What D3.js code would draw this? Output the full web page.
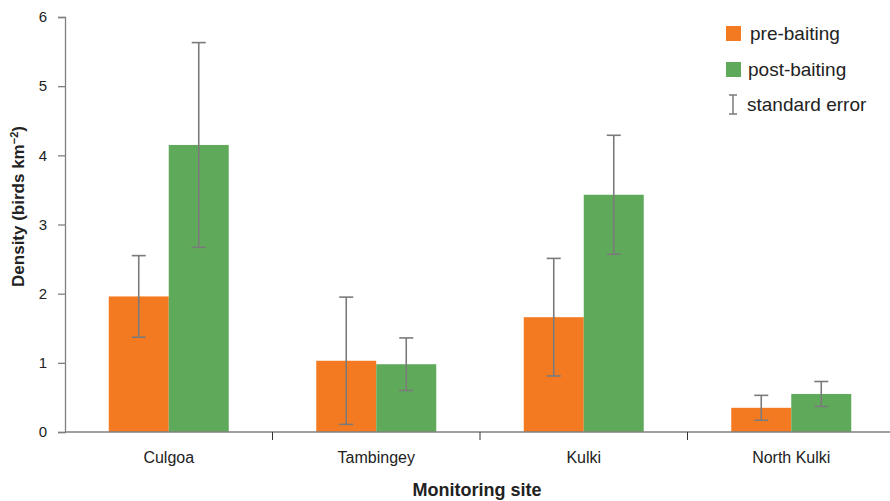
<!DOCTYPE html>
<html>
<head>
<meta charset="utf-8">
<script src="https://cdn.jsdelivr.net/npm/d3@7"></script>
<style>
  body { margin: 0; background: #fff; }
  text { font-family: "Liberation Sans", sans-serif; fill: #222; }
</style>
</head>
<body>
<div id="chart"></div>
<script>
// data
const sites = ["Culgoa", "Tambingey", "Kulki", "North Kulki"]
const series = ["pre-baiting", "post-baiting"]
const preMean = [1.96, 1.03, 1.66, 0.35]
const preSE = [0.59, 0.92, 0.85, 0.18]
const postMean = [4.15, 0.98, 3.43, 0.55]
const postSE = [1.48, 0.38, 0.86, 0.18]
const yTicks = [0, 1, 2, 3, 4, 5, 6]

const W = 890, H = 501
const margin = {top: 17, right: -5, bottom: 69, left: 65},
  width = W - margin.left - margin.right,
  height = H - margin.top - margin.bottom

const colors = {"pre-baiting": "#f47a22", "post-baiting": "#5faa5a"}
const errColor = "#7a7a7a"

const svg = d3.select("#chart")
  .append("svg")
  .attr("width", W)
  .attr("height", H)
.append("g")
  .attr("transform", `translate(${margin.left},${margin.top})`)

const data = sites.map((s, i) => ({
  site: s,
  values: [
    {key: "pre-baiting", mean: preMean[i], se: preSE[i]},
    {key: "post-baiting", mean: postMean[i], se: postSE[i]}
  ]
}))

const x = d3.scaleBand().domain(sites).range([0, width])
const xs = d3.scaleBand().domain(series).range([0, 120])
const y = d3.scaleLinear().domain([0, 6]).range([height, 0])

// bars
const groups = svg.selectAll(".grp")
  .data(data)
  .enter().append("g")
  .attr("transform", d => `translate(${x(d.site) + (x.bandwidth() - 120) / 2},0)`)

groups.selectAll("rect")
  .data(d => d.values)
  .enter().append("rect")
  .attr("x", d => xs(d.key))
  .attr("y", d => y(d.mean))
  .attr("width", xs.bandwidth())
  .attr("height", d => height - y(d.mean))
  .attr("fill", d => colors[d.key])

// error bars
const eb = groups.selectAll(".err")
  .data(d => d.values)
  .enter().append("g")
  .attr("stroke", errColor)
  .attr("stroke-width", 1.6)
eb.append("line")
  .attr("x1", d => xs(d.key) + xs.bandwidth() / 2)
  .attr("x2", d => xs(d.key) + xs.bandwidth() / 2)
  .attr("y1", d => y(d.mean + d.se))
  .attr("y2", d => y(d.mean - d.se))
eb.selectAll(".cap")
  .data(d => [d.mean + d.se, d.mean - d.se].map(v => ({v: v, cx: xs(d.key) + xs.bandwidth() / 2})))
  .enter().append("line")
  .attr("x1", d => d.cx - 7)
  .attr("x2", d => d.cx + 7)
  .attr("y1", d => y(d.v))
  .attr("y2", d => y(d.v))

// y axis
const yAxis = svg.append("g")
  .call(d3.axisLeft(y).tickValues(yTicks).tickFormat(d3.format("d")).tickSize(7).tickPadding(11))
yAxis.selectAll("path, line").attr("stroke", "#808080").attr("stroke-width", 1.3)
yAxis.selectAll("text").attr("font-size", 15).attr("font-family", "Liberation Sans, sans-serif").attr("fill", "#222")

// x axis
svg.append("line")
  .attr("x1", 0).attr("x2", width + 10)
  .attr("y1", height).attr("y2", height)
  .attr("stroke", "#808080").attr("stroke-width", 1.5)
svg.selectAll(".xtick")
  .data(sites.slice(1))
  .enter().append("line")
  .attr("x1", d => x(d)).attr("x2", d => x(d))
  .attr("y1", height).attr("y2", height + 8)
  .attr("stroke", "#333").attr("stroke-width", 1)
svg.selectAll(".xlab")
  .data(sites)
  .enter().append("text")
  .attr("x", d => x(d) + x.bandwidth() / 2)
  .attr("y", height + 31)
  .attr("text-anchor", "middle")
  .style("font-size", "16px")
  .text(d => d)

// axis titles
svg.append("text")
  .attr("x", width / 2 - 3)
  .attr("y", height + 64)
  .attr("text-anchor", "middle")
  .style("font-size", "18px")
  .style("font-weight", "bold")
  .text("Monitoring site")

const yt = svg.append("text")
  .attr("transform", `translate(${-41},${height / 2 - 18}) rotate(-90)`)
  .attr("text-anchor", "middle")
  .style("font-size", "17px")
  .style("font-weight", "bold")
yt.append("tspan").text("Density (birds km")
yt.append("tspan").attr("dy", -6).style("font-size", "11px").text("−2")
yt.append("tspan").attr("dy", 6).text(")")

// legend
const lg = svg.append("g").attr("transform", `translate(${726 - margin.left},${26 - margin.top})`)
series.forEach((s, i) => {
  lg.append("rect")
    .attr("x", 0).attr("y", i * 36)
    .attr("width", 15).attr("height", 15)
    .attr("fill", colors[s])
  lg.append("text")
    .attr("x", 22 + (i === 0 ? 2 : 0)).attr("y", i * 36 + 14)
    .style("font-size", "19px")
    .text(s)
})
const le = lg.append("g").attr("stroke", errColor).attr("stroke-width", 1.5)
le.append("line").attr("x1", 7).attr("x2", 7).attr("y1", 69).attr("y2", 88)
le.append("line").attr("x1", 3).attr("x2", 11).attr("y1", 69).attr("y2", 69)
le.append("line").attr("x1", 3).attr("x2", 11).attr("y1", 88).attr("y2", 88)
lg.append("text")
  .attr("x", 21).attr("y", 85)
  .style("font-size", "19px")
  .text("standard error")
</script>
</body>
</html>
